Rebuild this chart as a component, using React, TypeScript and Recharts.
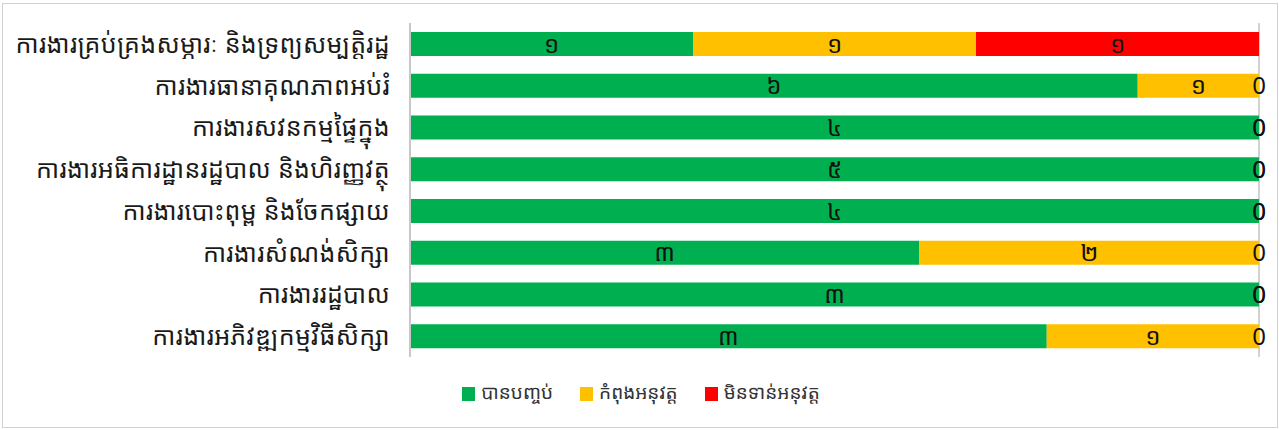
import React from 'react';
import { BarChart, Bar, XAxis, YAxis, CartesianGrid, Legend, LabelList } from 'recharts';

const categories = [
  'ការងារគ្រប់គ្រងសម្ភារៈ និងទ្រព្យសម្បត្តិរដ្ឋ',
  'ការងារធានាគុណភាពអប់រំ',
  'ការងារសវនកម្មផ្ទៃក្នុង',
  'ការងារអធិការដ្ឋានរដ្ឋបាល និងហិរញ្ញវត្ថុ',
  'ការងារបោះពុម្ព និងចែកផ្សាយ',
  'ការងារសំណង់សិក្សា',
  'ការងាររដ្ឋបាល',
  'ការងារអភិវឌ្ឍកម្មវិធីសិក្សា',
];

const done = [1, 6, 4, 5, 4, 3, 3, 3];
const inProgress = [1, 1, 0, 0, 0, 2, 0, 1];
const notStarted = [1, 0, 0, 0, 0, 0, 0, 0];

const seriesNames = ['បានបញ្ចប់', 'កំពុងអនុវត្ត', 'មិនទាន់អនុវត្ត'];
const xTicks = [0, 0.1, 0.2, 0.3, 0.4, 0.5, 0.6, 0.7, 0.8, 0.9, 1];

const COLORS = {
  done: '#00b050',
  inProgress: '#ffc000',
  notStarted: '#ff0000',
};
const seriesColors = [COLORS.done, COLORS.inProgress, COLORS.notStarted];

const FONT = '"Noto Sans Khmer", "Khmer OS", "Noto Serif Khmer", "Noto Sans", sans-serif';

const KHMER_DIGITS = ['០', '១', '២', '៣', '៤', '៥', '៦', '៧', '៨', '៩'];
const toKhmer = (v: any) => {
  const n = Number(v);
  if (!n) return '0';
  return String(n).split('').map(d => KHMER_DIGITS[Number(d)] ?? d).join('');
};

const data = categories.map((name, i) => ({
  name,
  done: done[i],
  inProgress: inProgress[i],
  notStarted: notStarted[i],
}));

const labelStyle = { fontSize: 24, fill: '#111', fontFamily: FONT };

// legend drawn in the original series order with wider gaps
const renderLegend = () => (
  <div style={{ display: 'flex', justifyContent: 'center', alignItems: 'center', gap: 27, paddingLeft: 20 }}>
    {seriesNames.map((name, i) => (
      <div key={name} style={{ display: 'flex', alignItems: 'center' }}>
        <span style={{ width: 13, height: 14, background: seriesColors[i], display: 'inline-block', marginRight: 6, marginTop: 4 }} />
        <span style={{ fontSize: 19, color: '#333', fontFamily: FONT }}>{name}</span>
      </div>
    ))}
  </div>
);

export default function App() {
  return (
    <div
      style={{
        position: 'absolute',
        left: 2,
        top: 3,
        width: 1276,
        height: 425,
        border: '1px solid #d0d0d0',
        boxSizing: 'border-box',
        background: '#fff',
        fontFamily: FONT,
      }}
    >
      <BarChart
        width={1274}
        height={423}
        data={data}
        layout="vertical"
        stackOffset="expand"
        margin={{ top: 19, right: 18, bottom: 22, left: 0 }}
        barSize={24}
      >
        <CartesianGrid horizontal={false} stroke="#a6a6a6" />
        <XAxis
          type="number"
          domain={[0, 1]}
          ticks={xTicks}
          tick={false}
          axisLine={false}
          tickLine={false}
          height={0}
        />
        <YAxis
          type="category"
          dataKey="name"
          width={407}
          tickLine={false}
          axisLine={{ stroke: '#c8c8c8', strokeWidth: 2 }}
          tickMargin={14}
          tick={{ fontSize: 25, fill: '#1a1a1a', fontFamily: FONT, letterSpacing: 0.3 }}
          interval={0}
        />
        <Legend verticalAlign="bottom" content={renderLegend} wrapperStyle={{ paddingTop: 22 }} />
        <Bar dataKey="done" name={seriesNames[0]} stackId="a" fill={COLORS.done} isAnimationActive={false} minPointSize={0.01}>
          <LabelList dataKey="done" position="center" formatter={toKhmer} style={labelStyle} />
        </Bar>
        <Bar dataKey="inProgress" name={seriesNames[1]} stackId="a" fill={COLORS.inProgress} isAnimationActive={false} minPointSize={0.01}>
          <LabelList dataKey="inProgress" position="center" formatter={toKhmer} style={labelStyle} />
        </Bar>
        <Bar dataKey="notStarted" name={seriesNames[2]} stackId="a" fill={COLORS.notStarted} isAnimationActive={false} minPointSize={0.01}>
          <LabelList dataKey="notStarted" position="center" formatter={toKhmer} style={labelStyle} />
        </Bar>
      </BarChart>
    </div>
  );
}
